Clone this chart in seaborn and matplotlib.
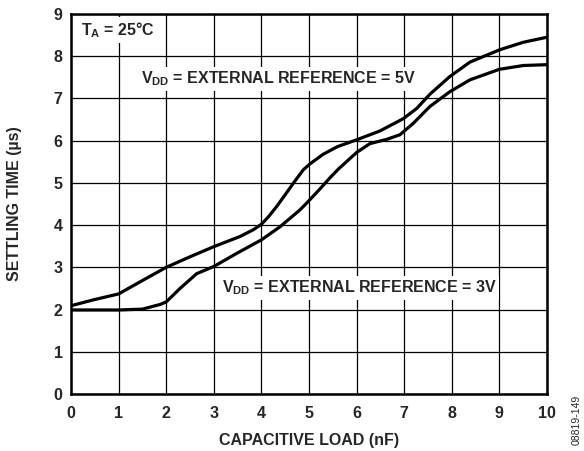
import matplotlib
matplotlib.use("Agg")
import matplotlib.pyplot as plt
import seaborn as sns
import pandas as pd

# Settling time vs capacitive load, two supply/reference conditions
load_5v = [0, 0.47, 1, 1.52, 2, 2.5, 3, 3.55, 3.83, 4, 4.15, 4.32, 4.5, 4.67, 4.88,
           5.02, 5.3, 5.6, 6.0, 6.49, 6.98, 7.26, 7.54, 7.96, 8.38, 9.0, 9.5, 10]
settle_5v = [2.09, 2.23, 2.37, 2.70, 3.00, 3.25, 3.49, 3.73, 3.89, 4.02, 4.20, 4.44,
             4.72, 4.99, 5.31, 5.45, 5.68, 5.86, 6.02, 6.23, 6.52, 6.76, 7.10, 7.52,
             7.86, 8.15, 8.33, 8.45]

load_3v = [0, 0.5, 1, 1.5, 1.87, 2, 2.29, 2.64, 3, 3.48, 4, 4.39, 4.81, 4.95, 5.2,
           5.44, 5.62, 6.0, 6.28, 6.63, 6.91, 7.19, 7.54, 7.96, 8.38, 9.0, 9.5, 10]
settle_3v = [1.99, 1.99, 1.99, 2.01, 2.12, 2.18, 2.50, 2.85, 3.02, 3.33, 3.65, 3.96,
             4.36, 4.52, 4.82, 5.12, 5.33, 5.72, 5.93, 6.03, 6.14, 6.41, 6.81, 7.16,
             7.44, 7.69, 7.78, 7.80]

x_ticks = list(range(0, 11))
y_ticks = list(range(0, 10))

df = pd.concat([
    pd.DataFrame({"load": load_5v, "settle": settle_5v, "cond": "5V"}),
    pd.DataFrame({"load": load_3v, "settle": settle_3v, "cond": "3V"}),
])

sns.set_theme(style="white")
plt.rcParams["font.family"] = ["Liberation Sans", "DejaVu Sans"]

fig = plt.figure(figsize=(5.84, 4.51), dpi=100)
ax = fig.add_axes([71 / 584, 1 - 394 / 451, (547 - 71) / 584, (394 - 14) / 451])

sns.lineplot(data=df, x="load", y="settle", units="cond", estimator=None,
             color="black", lw=2.3, sort=False, ax=ax, legend=False,
             solid_capstyle="round", solid_joinstyle="round", zorder=4)

ax.set_xlim(0, 10)
ax.set_ylim(0, 9)
ax.set_xticks(x_ticks)
ax.set_yticks(y_ticks)
ax.set_xticklabels([str(v) for v in x_ticks], fontsize=11.5, fontweight="bold")
ax.set_yticklabels([str(v) for v in y_ticks], fontsize=11.5, fontweight="bold")
ax.tick_params(axis="x", length=0, pad=9)
ax.tick_params(axis="y", length=0, pad=6)
ax.grid(True, color="black", lw=0.9)
ax.set_axisbelow(True)
for s in ax.spines.values():
    s.set_color("black")
    s.set_linewidth(1.8)

ax.set_xlabel("CAPACITIVE LOAD (nF)", fontsize=11.5, fontweight="bold", labelpad=8)
ax.set_ylabel("SETTLING TIME (µs)", fontsize=11.5, fontweight="bold", labelpad=23)

box = dict(facecolor="white", edgecolor="none", pad=2)
ax.text(0.2, 8.62, r"T$_\mathregular{A}$ = 25°C", fontsize=11.5, fontweight="bold",
        ha="left", va="center", bbox=box, zorder=3)
ax.text(4.35, 7.47, r"V$_\mathregular{DD}$ = EXTERNAL REFERENCE = 5V", fontsize=11.5,
        fontweight="bold", ha="center", va="center", bbox=box, zorder=3)
ax.text(6.05, 2.52, r"V$_\mathregular{DD}$ = EXTERNAL REFERENCE = 3V", fontsize=11.5,
        fontweight="bold", ha="center", va="center", bbox=box, zorder=3)

fig.text(577 / 584, 1 - 420 / 451, "08819-149", rotation=90, fontsize=7.5,
         ha="center", va="center")

fig.savefig("out.png", dpi=100)
